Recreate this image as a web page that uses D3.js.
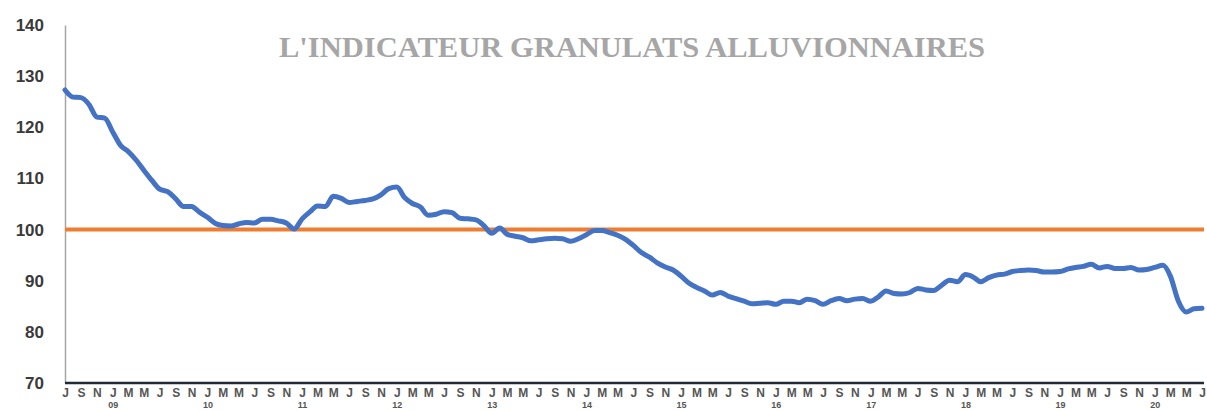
<!DOCTYPE html>
<html>
<head>
<meta charset="utf-8">
<script src="https://cdn.jsdelivr.net/npm/d3@7"></script>
<style>
  body { margin: 0; background: #fff; }
  svg { display: block; }
</style>
</head>
<body>
<div id="drawing_region"></div>
<script>
// monthly index, July 2008 -> July 2020
const startMonth = new Date(2008, 6, 1);
const values = [
  127.3, 125.9, 125.8, 124.5, 122.0, 121.8, 119.1, 116.4, 115.3, 113.6, 111.6, 109.6,
  107.9, 107.4, 106.0, 104.5, 104.5, 103.4, 102.4, 101.2, 100.8, 100.7, 101.1, 101.4,
  101.3, 102.0, 102.0, 101.7, 101.3, 100.1, 102.1, 103.5, 104.6, 104.5, 106.5, 106.1,
  105.3, 105.5, 105.7, 106.0, 106.8, 108.0, 108.3, 106.2, 105.1, 104.4, 102.8, 103.0,
  103.5, 103.3, 102.2, 102.1, 101.9, 100.8, 99.3, 100.3, 99.1, 98.7, 98.4, 97.8,
  98.0, 98.2, 98.3, 98.2, 97.7, 98.2, 99.0, 99.8, 99.8, 99.4, 98.9, 98.1,
  96.9, 95.5, 94.6, 93.5, 92.7, 92.1, 90.9, 89.5, 88.7, 88.0, 87.2, 87.7,
  87.0, 86.5, 86.0, 85.5, 85.6, 85.7, 85.4, 86.0, 86.0, 85.7, 86.4, 86.1,
  85.4, 86.1, 86.5, 86.1, 86.4, 86.5, 86.0, 86.9, 88.0, 87.5, 87.4, 87.7,
  88.5, 88.2, 88.1, 89.1, 90.1, 89.8, 91.2, 90.7, 89.8, 90.6, 91.1, 91.3,
  91.8, 92.0, 92.1, 92.0, 91.7, 91.7, 91.8, 92.3, 92.6, 92.8, 93.2, 92.5,
  92.8, 92.4, 92.4, 92.6, 92.1, 92.2, 92.6, 93.0, 90.9, 86.0, 83.9, 84.5,
  84.6
];
const reference = 100;
const yTicks = [70, 80, 90, 100, 110, 120, 130, 140];
const monthLetters = ["J", "F", "M", "A", "M", "J", "J", "A", "S", "O", "N", "D"];
const title = "L'INDICATEUR GRANULATS ALLUVIONNAIRES";

const data = values.map((v, i) => ({
  date: new Date(startMonth.getFullYear(), startMonth.getMonth() + i, 1),
  value: v
}));

const width = 1207, height = 411;
const margin = { top: 25, right: 3, bottom: 28, left: 65 };
const innerW = width - margin.left - margin.right;
const innerH = height - margin.top - margin.bottom;

const svg = d3.select("#drawing_region").append("svg")
  .attr("width", width)
  .attr("height", height);

const chart = svg.append("g")
  .attr("transform", `translate(${margin.left}, ${margin.top})`);

const xscale = d3.scaleTime()
  .domain([data[0].date, data[data.length - 1].date])
  .range([0, innerW - 2]);
const yscale = d3.scaleLinear().domain([70, 140]).range([innerH, 0]);

// y axis
const yaxis = d3.axisLeft(yscale).tickValues(yTicks).tickSize(0).tickPadding(21);
const yg = chart.append("g").attr("class", "y-axis").call(yaxis);
yg.select(".domain").attr("stroke", "#a6a6a6").attr("stroke-width", 1.5);
yg.selectAll("text")
  .attr("fill", "#3a3a3a")
  .style("font-family", "'Liberation Sans', Arial, sans-serif")
  .style("font-weight", "bold")
  .style("font-size", "17px");

// title
svg.append("text")
  .attr("x", 632)
  .attr("y", 57)
  .attr("text-anchor", "middle")
  .attr("textLength", 706)
  .attr("lengthAdjust", "spacingAndGlyphs")
  .attr("fill", "#a6a6a6")
  .attr("font-family", "Liberation Serif, DejaVu Serif, Times New Roman, serif")
  .attr("font-weight", "bold")
  .attr("font-size", 30)
  .text(title);

// reference line at 100
chart.append("line")
  .attr("x1", 0)
  .attr("x2", innerW)
  .attr("y1", yscale(reference))
  .attr("y2", yscale(reference))
  .attr("stroke", "#ED7D31")
  .attr("stroke-width", 4);

// index line
const line = d3.line()
  .x(d => xscale(d.date))
  .y(d => yscale(d.value))
  .curve(d3.curveMonotoneX);

chart.append("path")
  .datum(data)
  .attr("fill", "none")
  .attr("stroke", "#4472C4")
  .attr("stroke-width", 5)
  .attr("stroke-linejoin", "round")
  .attr("stroke-linecap", "round")
  .attr("d", line);

// x axis: month letters every two months
const monthTicks = data.filter((d, i) => i % 2 === 0).map(d => d.date);
const xaxis = d3.axisBottom(xscale)
  .tickValues(monthTicks)
  .tickSize(0)
  .tickPadding(5)
  .tickFormat(d => monthLetters[d.getMonth()]);
const xg = chart.append("g")
  .attr("class", "x-axis")
  .attr("transform", `translate(0, ${innerH})`)
  .call(xaxis);
xg.select(".domain").remove();
xg.selectAll("text")
  .attr("fill", "#555")
  .style("font-family", "'Liberation Sans', Arial, sans-serif")
  .style("font-weight", "bold")
  .style("font-size", "12px");

// year labels under January
const yearTicks = data.filter(d => d.date.getMonth() === 0).map(d => d.date);
const yearAxis = d3.axisBottom(xscale)
  .tickValues(yearTicks)
  .tickSize(0)
  .tickPadding(19)
  .tickFormat(d3.timeFormat("%y"));
const yrg = chart.append("g")
  .attr("transform", `translate(0, ${innerH})`)
  .call(yearAxis);
yrg.select(".domain").remove();
yrg.selectAll("text")
  .attr("fill", "#555")
  .style("font-family", "'Liberation Sans', Arial, sans-serif")
  .style("font-weight", "bold")
  .style("font-size", "9px");

// bottom axis line
chart.append("line")
  .attr("x1", 0)
  .attr("x2", innerW)
  .attr("y1", innerH)
  .attr("y2", innerH)
  .attr("stroke", "#222a35")
  .attr("stroke-width", 2.5);
</script>
</body>
</html>
